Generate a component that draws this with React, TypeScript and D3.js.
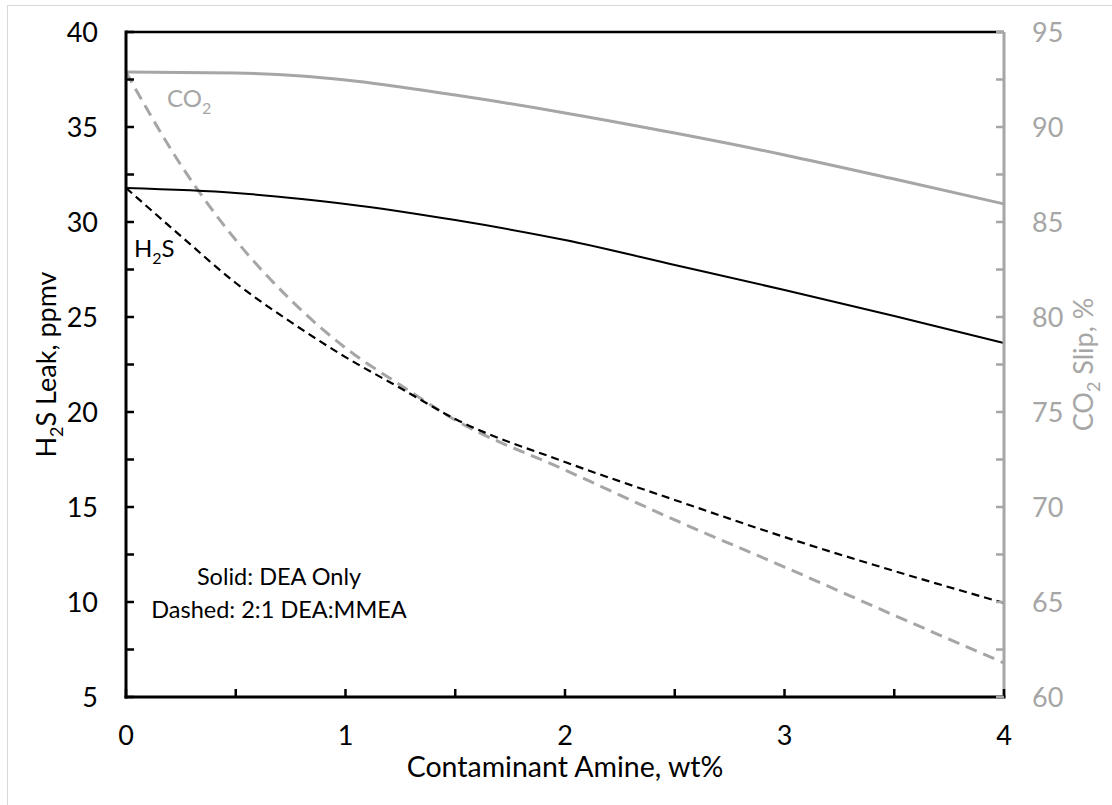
import * as d3 from 'd3'

const solidX = [0, 0.5, 0.8, 1, 1.5, 2, 2.5, 3, 3.5, 4]
const h2sDea = [31.79, 31.53, 31.21, 30.95, 30.1, 29.05, 27.74, 26.42, 25.05, 23.63]
const co2Dea = [92.89, 92.84, 92.68, 92.47, 91.68, 90.74, 89.68, 88.53, 87.26, 85.95]

const dashedX = [0, 0.25, 0.5, 0.75, 1, 1.25, 1.5, 2, 2.5, 3, 3.5, 4]
const h2sMix = [31.79, 29.26, 26.79, 24.74, 22.89, 21.26, 19.63, 17.37, 15.37, 13.42, 11.63, 9.95]
const co2Mix = [92.89, 88.0, 84.05, 80.9, 78.37, 76.42, 74.58, 71.95, 69.32, 66.84, 64.3, 61.79]

const xTicks = [0, 1, 2, 3, 4]
const xMinor = [0.5, 1.5, 2.5, 3.5]
const leftTicks = [5, 10, 15, 20, 25, 30, 35, 40]
const leftMinor = [7.5, 12.5, 17.5, 22.5, 27.5, 32.5, 37.5]
const rightTicks = [60, 65, 70, 75, 80, 85, 90, 95]
const rightMinor = [62.5, 67.5, 72.5, 77.5, 82.5, 87.5, 92.5]

const GRAY = '#a6a6a6'
const FONT = 'Lato, sans-serif'
const FS = 27 // tick labels
const TS = 28.5 // axis titles
const AS = 23.5 // notes in the plot

export default function App() {
  const left = 126
  const right = 1004
  const top = 32
  const bottom = 697

  const x = d3.scaleLinear().domain([0, 4]).range([left, right])
  const yL = d3.scaleLinear().domain([5, 40]).range([bottom, top])
  const yR = d3.scaleLinear().domain([60, 95]).range([bottom, top])

  const mk = (xs: number[], ys: number[], y: d3.ScaleLinear<number, number>) =>
    d3.line<number>()
      .x((_, i) => x(xs[i]))
      .y((d) => y(d))
      .curve(d3.curveMonotoneX)(ys) || ''

  return (
    <svg width={1112} height={805} style={{ position: 'absolute', left: 0, top: 0 }} fontFamily={FONT}>
      <rect x={0} y={0} width={1112} height={805} fill="#fff" />
      <rect x={7.5} y={5.5} width={1300} height={1000} fill="none" stroke="#d9d9d9" strokeWidth={1} />

      {/* data lines */}
      <path d={mk(solidX, co2Dea, yR)} fill="none" stroke={GRAY} strokeWidth={3} />
      <path d={mk(dashedX, co2Mix, yR)} fill="none" stroke={GRAY} strokeWidth={3} strokeDasharray="12,7" />
      <path d={mk(solidX, h2sDea, yL)} fill="none" stroke="#000" strokeWidth={2} />
      <path d={mk(dashedX, h2sMix, yL)} fill="none" stroke="#000" strokeWidth={2.2} strokeDasharray="8,5" />

      {/* frame */}
      <line x1={left} x2={right} y1={top} y2={top} stroke="#000" strokeWidth={2.5} />
      <line x1={right} x2={right} y1={top} y2={bottom} stroke={GRAY} strokeWidth={3} />
      <line x1={left} x2={left} y1={top - 1.5} y2={bottom + 1.5} stroke="#000" strokeWidth={3} />
      <line x1={left - 1.5} x2={right + 1.5} y1={bottom} y2={bottom} stroke="#000" strokeWidth={3} />

      {/* x ticks */}
      {[...xTicks, ...xMinor].map((t) => (
        <line key={'xt' + t} x1={x(t)} x2={x(t)} y1={bottom} y2={bottom - 8} stroke="#000" strokeWidth={2.5} />
      ))}
      {xTicks.map((t) => (
        <text key={'xl' + t} x={x(t)} y={745} textAnchor="middle" fontSize={FS} fill="#000">{t}</text>
      ))}

      {/* left ticks */}
      {[...leftTicks, ...leftMinor].map((t) => (
        <line key={'lt' + t} x1={left} x2={left + 8} y1={yL(t)} y2={yL(t)} stroke="#000" strokeWidth={2.5} />
      ))}
      {leftTicks.map((t) => (
        <text key={'ll' + t} x={98} y={yL(t)} dy="0.36em" textAnchor="end" fontSize={FS} fill="#000">{t}</text>
      ))}

      {/* right ticks */}
      {[...rightTicks, ...rightMinor].map((t) => (
        <line key={'rt' + t} x1={right} x2={right - 8} y1={yR(t)} y2={yR(t)} stroke={GRAY} strokeWidth={2.5} />
      ))}
      {rightTicks.map((t) => (
        <text key={'rl' + t} x={1032} y={yR(t)} dy="0.36em" textAnchor="start" fontSize={FS} fill={GRAY}>{t}</text>
      ))}

      {/* axis titles */}
      <text x={(left + right) / 2} y={777} textAnchor="middle" fontSize={TS} fill="#000">Contaminant Amine, wt%</text>
      <text transform={`translate(56,${(top + bottom) / 2}) rotate(-90)`} textAnchor="middle" fontSize={FS} fill="#000">
        H<tspan fontSize={18} dy={7}>2</tspan><tspan dy={-7}>S Leak, ppmv</tspan>
      </text>
      <text transform={`translate(1093,${(top + bottom) / 2}) rotate(-90)`} textAnchor="middle" fontSize={FS} fill={GRAY}>
        CO<tspan fontSize={18} dy={7}>2</tspan><tspan dy={-7}> Slip, %</tspan>
      </text>

      {/* annotations */}
      <text x={167} y={107} fontSize={24} fill={GRAY}>
        CO<tspan fontSize={16} dy={7}>2</tspan>
      </text>
      <text x={134} y={257} fontSize={24} fill="#000">
        H<tspan fontSize={16} dy={7}>2</tspan><tspan dy={-7}>S</tspan>
      </text>
      <text x={279} y={585} textAnchor="middle" fontSize={AS} fill="#000">Solid: DEA Only</text>
      <text x={279} y={618} textAnchor="middle" fontSize={AS} fill="#000">Dashed: 2:1 DEA:MMEA</text>
    </svg>
  )
}
